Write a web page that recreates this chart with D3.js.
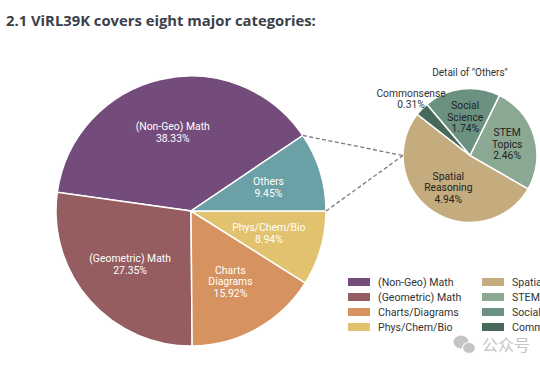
<!DOCTYPE html>
<html>
<head>
<meta charset="utf-8">
<script src="https://cdn.jsdelivr.net/npm/d3@7"></script>
<style>
  body { margin: 0; background: #fff; }
  svg { display: block; }
</style>
</head>
<body>
<div id="chart"></div>
<script>
// main pie data (legend order)
const mainCategories = ["(Non-Geo) Math", "(Geometric) Math", "Charts/Diagrams", "Phys/Chem/Bio", "Others"];
const mainLabels = [["(Non-Geo) Math"], ["(Geometric) Math"], ["Charts", "Diagrams"], ["Phys/Chem/Bio"], ["Others"]];
const mainValues = [38.33, 27.35, 15.92, 8.94, 9.45];
const mainColors = ["#744c7b", "#955d5f", "#d6925f", "#e2c26f", "#6ba0a6"];

// detail of "Others"
const subCategories = ["Spatial Reasoning", "STEM Topics", "Social Science", "Commonsense"];
const subLabels = [["Spatial", "Reasoning"], ["STEM", "Topics"], ["Social", "Science"], ["Commonsense"]];
const subValues = [4.94, 2.46, 1.74, 0.31];
const subColors = ["#c5ac7e", "#8aa892", "#6b9181", "#47695a"];

const width = 540, height = 372;
const deg = Math.PI / 180;

const svg = d3.select('#chart')
    .append('svg')
    .attr('width', width)
    .attr('height', height);

// Title, shrink to fit the width in the reference
const title = svg.append('text')
    .attr('x', 6)
    .attr('y', 26)
    .attr('font-family', '"Open Sans", sans-serif')
    .attr('font-weight', 700)
    .attr('font-size', 17)
    .attr('fill', '#3b3f4a')
    .text('2.1 ViRL39K covers eight major categories:');
const tw = title.node().getComputedTextLength();
if (tw > 310) title.attr('font-size', 17 * 310 / tw);

const fontFamily = 'Roboto, "Noto Sans", sans-serif';

function drawLabel(g, x, y, lines, color, size) {
    const lh = size * 1.12;
    const t = g.append('text')
        .attr('text-anchor', 'middle')
        .attr('font-family', fontFamily)
        .attr('font-size', size)
        .attr('fill', color);
    const y0 = y - (lines.length - 1) * lh / 2 + size * 0.35;
    lines.forEach((l, i) => {
        t.append('tspan').attr('x', x).attr('y', y0 + i * lh).text(l);
    });
}

// Main pie: counterclockwise, first slice starting at the end of "Others"
const mainCx = 191, mainCy = 211, mainR = 135;
const othersShare = mainValues[4] / d3.sum(mainValues);
const mainStart = Math.PI / 2 - othersShare * 2 * Math.PI;

const mainPie = d3.pie().sort(null)
    .startAngle(mainStart)
    .endAngle(mainStart - 2 * Math.PI)
    .value(d => d);
const mainArcs = mainPie(mainValues);
const mainArc = d3.arc().innerRadius(0).outerRadius(mainR);
const mainLabelArc = d3.arc().innerRadius(mainR * 0.6).outerRadius(mainR * 0.6);

const gMain = svg.append('g').attr('transform', `translate(${mainCx},${mainCy})`);
gMain.selectAll('path')
    .data(mainArcs)
    .join('path')
    .attr('d', mainArc)
    .attr('fill', (d, i) => mainColors[i])
    .attr('stroke', '#fff')
    .attr('stroke-width', 1.5);

mainArcs.forEach((a, i) => {
    const [x, y] = mainLabelArc.centroid(a);
    const pct = mainValues[i].toFixed(2) + '%';
    drawLabel(gMain, x, y, mainLabels[i].concat([pct]), '#fff', 10.4);
});

// Sub pie for "Others"
const subCx = 470, subCy = 155.5, subR = 67;
const subStart = (90 - 142) * deg;
const subPie = d3.pie().sort(null)
    .startAngle(subStart)
    .endAngle(subStart - 2 * Math.PI)
    .value(d => d);
const subArcs = subPie(subValues);
const subArc = d3.arc().innerRadius(0).outerRadius(subR);

const gSub = svg.append('g').attr('transform', `translate(${subCx},${subCy})`);
gSub.selectAll('path')
    .data(subArcs)
    .join('path')
    .attr('d', subArc)
    .attr('fill', (d, i) => subColors[i])
    .attr('stroke', '#fff')
    .attr('stroke-width', 1.5);

subArcs.forEach((a, i) => {
    const pct = subValues[i].toFixed(2) + '%';
    // the smallest slice gets its label outside
    const r = i === 3 ? subR * 1.22 : subR * 0.58;
    const [x, y] = d3.arc().innerRadius(r).outerRadius(r).centroid(a);
    drawLabel(gSub, x, y, subLabels[i].concat([pct]), i === 3 ? '#333' : '#222', 10.3);
});

svg.append('text')
    .attr('x', subCx)
    .attr('y', 76)
    .attr('text-anchor', 'middle')
    .attr('font-family', fontFamily)
    .attr('font-size', 10)
    .attr('fill', '#333')
    .text('Detail of "Others"');

// Dashed connectors from the "Others" slice edges to the sub pie
const othersArc = mainArcs[4];
const edgePts = [othersArc.startAngle, othersArc.endAngle].map(a => [
    mainCx + mainR * Math.sin(a), mainCy - mainR * Math.cos(a)
]);
const target = [subCx - subR, subCy];
edgePts.forEach(p => {
    svg.append('line')
        .attr('x1', p[0]).attr('y1', p[1])
        .attr('x2', target[0]).attr('y2', target[1])
        .attr('stroke', '#7a7a7a')
        .attr('stroke-width', 1.3)
        .attr('stroke-dasharray', '4,2.5');
});

// Legend, two columns (right column is cut by the image edge as in the reference)
const legendItems = mainCategories.slice(0, 4).map((c, i) => ({ name: c, color: mainColors[i], col: 0, row: i }))
    .concat(subCategories.map((c, i) => ({ name: c, color: subColors[i], col: 1, row: i })));
const gLeg = svg.append('g');
legendItems.forEach(it => {
    const x = 348 + it.col * 134;
    const y = 282 + it.row * 15;
    gLeg.append('rect')
        .attr('x', x).attr('y', y - 4)
        .attr('width', 22).attr('height', 8)
        .attr('fill', it.color);
    gLeg.append('text')
        .attr('x', x + 30).attr('y', y + 3.8)
        .attr('font-family', fontFamily)
        .attr('font-size', 10.6)
        .attr('fill', '#333')
        .text(it.name);
});

// watermark
const gW = svg.append('g').attr('fill', '#c4c4c4');
gW.append('ellipse').attr('cx', 461).attr('cy', 342).attr('rx', 7.5).attr('ry', 6.5);
gW.append('ellipse').attr('cx', 469).attr('cy', 348).attr('rx', 6.5).attr('ry', 5.5).attr('stroke', '#fff').attr('stroke-width', 1.2);
gW.append('text')
    .attr('x', 482).attr('y', 351)
    .attr('font-family', '"Noto Sans CJK SC", sans-serif')
    .attr('font-size', 16)
    .text('公众号');
</script>
</body>
</html>
